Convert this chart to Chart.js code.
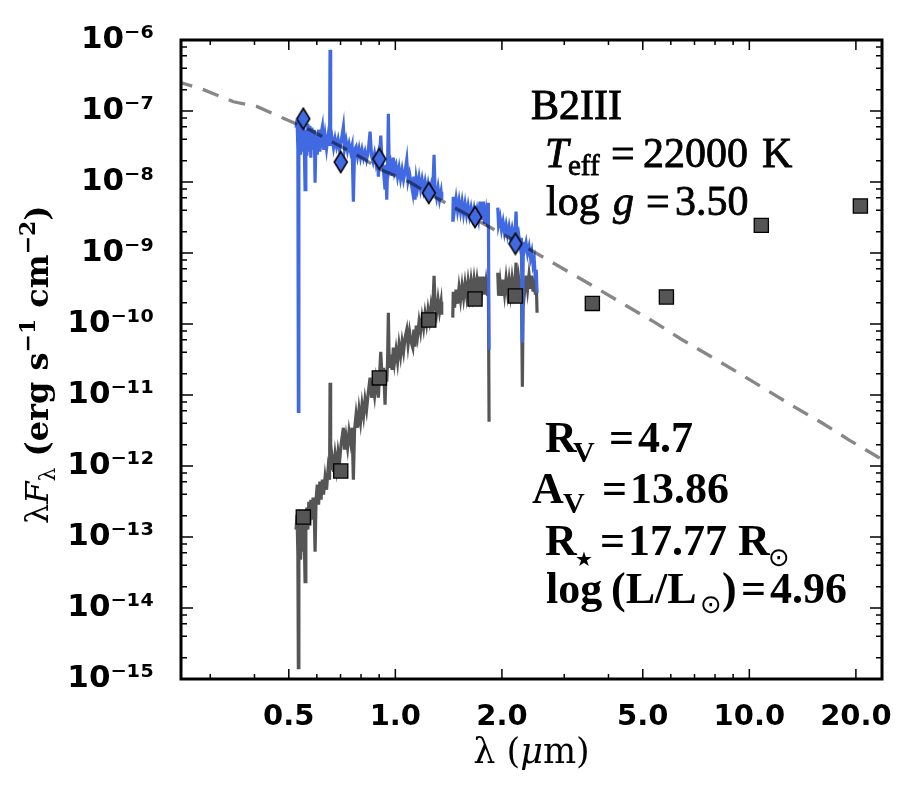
<!DOCTYPE html>
<html lang="en">
<head>
<meta charset="UTF-8" />
<title>SED B2III</title>
<script src="https://cdn.jsdelivr.net/npm/chart.js"></script>
<style>
  html, body { margin: 0; padding: 0; background: #fff; }
  #wrap { position: relative; width: 915px; height: 799px; }
</style>
</head>
<body>
<div id="wrap"><canvas id="sed" width="915" height="799"></canvas></div>
<script>
// spectrum wavelength grid (um); the two null-flux entries are gaps
const specWave = [
  0.5242, 0.5276, 0.5304, 0.5321, 0.5339, 0.5363, 0.5398, 0.5433, 0.5468, 0.5504,
  0.5533, 0.5558, 0.5587, 0.5623, 0.5660, 0.5697, 0.5734, 0.5771, 0.5809, 0.5855,
  0.5901, 0.5932, 0.5970, 0.6017, 0.6068, 0.6120, 0.6168, 0.6220, 0.6269, 0.6330,
  0.6392, 0.6455, 0.6518, 0.6539, 0.6565, 0.6625, 0.6690, 0.6756, 0.6822, 0.6889,
  0.6956, 0.7025, 0.7131, 0.7186, 0.7257, 0.7328, 0.7400, 0.7473, 0.7546, 0.7610,
  0.7670, 0.7745, 0.7821, 0.7897, 0.7974, 0.8052, 0.8131, 0.8211, 0.8292, 0.8373,
  0.8483, 0.8566, 0.8650, 0.8735, 0.8821, 0.8907, 0.8954, 0.9023, 0.9094, 0.9171,
  0.9261, 0.9352, 0.9413, 0.9456, 0.9505, 0.9555, 0.9611, 0.9693, 0.9788, 0.9871,
  0.9948, 1.0046, 1.0144, 1.0244, 1.0344, 1.0446, 1.0548, 1.0651, 1.0770, 1.0861,
  1.0968, 1.1076, 1.1199, 1.1279, 1.1367, 1.1456, 1.1554, 1.1667, 1.1781, 1.1897,
  1.2014, 1.2131, 1.2250, 1.2370, 1.2491, 1.2614, 1.2737, 1.2862, 1.2946, 1.3073,
  1.3201, 1.3330, 1.3461, 1.3522,
  1.40,
  1.4527, 1.4574, 1.4697, 1.4841, 1.4987, 1.5133, 1.5282, 1.5432, 1.5583, 1.5736,
  1.5890, 1.6046, 1.6203, 1.6362, 1.6522, 1.6684, 1.6848, 1.7013, 1.7180, 1.7348,
  1.7518, 1.7725, 1.7864, 1.8039, 1.8216, 1.8311, 1.8395,
  1.89,
  1.9466, 1.9568, 1.9759, 1.9953, 2.0148, 2.0346, 2.0546, 2.0747, 2.0951, 2.1156,
  2.1364, 2.1573, 2.1785, 2.1927, 2.2070, 2.2287, 2.2505, 2.2696, 2.2844, 2.2993,
  2.3173, 2.3400, 2.3630, 2.3861, 2.4095, 2.4284, 2.4490, 2.4682, 2.4860, 2.5006,
  2.5136
];

// dereddened spectrum, lambda*F_lambda (erg s-1 cm-2)
const specDered = [
  5.82e-8, 7.54e-8, 2.85e-8, 5.87e-12, 3.94e-8, 7.07e-8, 2.42e-8, 6.41e-8, 2.67e-8, 7.30e-8,
  2.85e-8, 7.79e-9, 5.45e-8, 2.35e-8, 6.62e-8, 2.67e-8, 6.21e-8, 2.20e-8, 5.82e-8, 2.85e-8,
  5.45e-8, 9.77e-9, 4.64e-8, 2.42e-8, 5.45e-8, 2.67e-8, 4.79e-8, 6.01e-8, 2.85e-8, 4.49e-8,
  2.94e-8, 4.35e-8, 3.25e-8, 7.30e-7, 3.25e-8, 4.21e-8, 3.04e-8, 4.07e-8, 3.14e-8, 3.94e-8,
  2.85e-8, 3.69e-8, 6.01e-8, 2.94e-8, 3.82e-8, 2.76e-8, 3.46e-8, 2.67e-8, 3.25e-8, 5.28e-9,
  2.85e-8, 3.14e-8, 2.27e-8, 2.94e-8, 2.20e-8, 2.85e-8, 2.20e-8, 2.67e-8, 2.06e-8, 2.59e-8,
  5.11e-8, 2.35e-8, 1.93e-8, 2.50e-8, 1.81e-8, 2.27e-8, 1.19e-8, 2.06e-8, 4.49e-8, 1.93e-8,
  1.40e-8, 7.79e-9, 1.75e-8, 5.63e-9, 1.59e-8, 9.16e-8, 1.49e-8, 1.81e-8, 1.23e-8, 2.20e-8,
  1.40e-8, 1.70e-8, 1.19e-8, 1.59e-8, 1.11e-8, 1.49e-8, 1.08e-8, 1.40e-8, 2.06e-8, 1.04e-8,
  1.31e-8, 9.77e-9, 7.07e-9, 1.19e-8, 5.63e-9, 1.11e-8, 8.31e-9, 1.15e-8, 8.05e-9, 1.08e-8,
  7.79e-9, 1.01e-8, 7.30e-9, 9.46e-9, 7.07e-9, 8.87e-9, 6.41e-9, 2.42e-8, 7.79e-9, 6.01e-9,
  8.31e-9, 5.63e-9, 7.30e-9, 5.63e-9,
  null,
  2.76e-9, 6.21e-9, 4.07e-9, 5.82e-9, 3.94e-9, 5.45e-9, 3.82e-9, 5.28e-9, 3.58e-9, 4.95e-9,
  3.46e-9, 4.64e-9, 3.35e-9, 4.35e-9, 3.25e-9, 4.21e-9, 3.14e-9, 4.07e-9, 3.04e-9, 5.28e-9,
  2.94e-9, 5.28e-9, 2.59e-9, 3.82e-9, 2.35e-9, 5.11e-9, 4.35e-11,
  null,
  4.35e-9, 2.50e-9, 3.14e-9, 2.13e-9, 2.76e-9, 1.93e-9, 2.50e-9, 1.81e-9, 2.35e-9, 1.70e-9,
  2.20e-9, 1.64e-9, 2.00e-9, 3.82e-9, 1.54e-9, 1.87e-9, 1.31e-9, 1.64e-9, 5.45e-11, 1.44e-9,
  1.11e-9, 1.40e-9, 9.77e-10, 1.23e-9, 8.59e-10, 1.04e-9, 6.84e-10, 8.05e-10, 4.21e-10, 5.82e-10,
  2.76e-10
];

// observed (reddened) spectrum
const specObs = [
  1.27e-13, 2.06e-13, 5.63e-14, 1.44e-15, 9.16e-14, 1.75e-13, 4.79e-14, 1.49e-13, 6.21e-14, 1.87e-13,
  7.79e-14, 2.35e-14, 1.49e-13, 2.59e-13, 1.27e-13, 3.14e-13, 1.44e-13, 3.35e-13, 1.75e-13, 3.58e-13,
  2.06e-13, 6.21e-14, 3.35e-13, 5.45e-13, 2.85e-13, 6.01e-13, 3.35e-13, 6.41e-13, 3.94e-13, 6.84e-13,
  4.64e-13, 8.87e-13, 6.41e-13, 1.49e-11, 8.87e-13, 1.31e-12, 8.31e-13, 1.44e-12, 9.46e-13, 1.59e-12,
  1.15e-12, 2.00e-12, 3.46e-12, 1.70e-12, 2.59e-12, 1.81e-12, 3.04e-12, 2.20e-12, 3.46e-12, 6.41e-13,
  3.25e-12, 5.28e-12, 3.46e-12, 6.21e-12, 4.21e-12, 7.30e-12, 5.11e-12, 8.59e-12, 6.21e-12, 1.01e-11,
  1.75e-11, 9.16e-12, 1.40e-11, 9.77e-12, 1.64e-11, 1.19e-11, 9.16e-12, 1.93e-11, 4.07e-11, 1.75e-11,
  2.42e-11, 7.30e-12, 2.27e-11, 1.54e-11, 2.94e-11, 1.44e-10, 2.42e-11, 3.69e-11, 2.27e-11, 4.64e-11,
  2.94e-11, 4.35e-11, 2.94e-11, 5.11e-11, 3.58e-11, 5.63e-11, 4.07e-11, 6.41e-11, 8.31e-11, 5.11e-11,
  7.79e-11, 5.63e-11, 4.64e-11, 8.31e-11, 4.79e-11, 9.46e-11, 6.84e-11, 1.08e-10, 7.79e-11, 1.23e-10,
  8.87e-11, 1.40e-10, 1.01e-10, 1.59e-10, 1.15e-10, 1.81e-10, 1.31e-10, 4.79e-10, 1.87e-10, 1.40e-10,
  2.20e-10, 1.49e-10, 2.06e-10, 1.35e-10,
  null,
  1.23e-10, 2.85e-10, 1.70e-10, 3.04e-10, 1.93e-10, 3.25e-10, 2.20e-10, 3.46e-10, 2.35e-10, 3.69e-10,
  2.50e-10, 3.94e-10, 2.59e-10, 4.07e-10, 2.67e-10, 4.21e-10, 2.76e-10, 4.21e-10, 2.85e-10, 4.64e-10,
  2.85e-10, 4.64e-10, 2.59e-10, 3.94e-10, 2.50e-10, 4.49e-10, 4.21e-12,
  null,
  5.28e-10, 2.50e-10, 3.94e-10, 2.50e-10, 4.21e-10, 2.67e-10, 4.35e-10, 2.76e-10, 4.21e-10, 2.67e-10,
  4.35e-10, 2.85e-10, 4.21e-10, 7.30e-10, 2.85e-10, 4.49e-10, 2.94e-10, 4.35e-10, 1.31e-11, 4.07e-10,
  2.85e-10, 4.79e-10, 3.04e-10, 4.95e-10, 3.14e-10, 4.79e-10, 2.85e-10, 4.49e-10, 2.59e-10, 3.94e-10,
  1.44e-10
];

// unreddened model atmosphere (dashed)
const modelWave = [0.24, 0.287, 0.349, 0.406, 0.483, 0.574, 0.675, 0.798, 0.915, 1.10, 1.28, 1.546, 1.84,
  2.19, 2.62, 3.09, 3.72, 4.48, 5.38, 6.39, 7.70, 9.24, 13.4, 16.1, 19.2, 23.0, 25.0];
const modelFlux = [2.63e-7, 2.0e-7, 1.35e-7, 1.16e-7, 7.9e-8, 5.4e-8, 3.5e-8, 2.24e-8, 1.48e-8, 9.9e-9, 6.3e-9, 3.8e-9, 2.34e-9,
  1.45e-9, 8.7e-10, 5.4e-10, 3.16e-10, 1.82e-10, 1.07e-10, 6.2e-11, 3.6e-11, 2.1e-11, 6.8e-12, 4.0e-12, 2.3e-12, 1.35e-12, 1.05e-12];

// photometry
const photWave = [0.5495, 0.701, 0.901, 1.243, 1.679, 2.183];
const photDered = [7.79e-8, 1.91e-8, 2.11e-8, 7.00e-9, 3.21e-9, 1.35e-9];
const obsWave = [0.5495, 0.701, 0.901, 1.243, 1.679, 2.183, 3.602, 5.83, 10.81, 20.59];
const obsFlux = [1.91e-13, 8.50e-13, 1.74e-11, 1.14e-10, 2.25e-10, 2.48e-10, 1.95e-10, 2.40e-10, 2.45e-9, 4.59e-9];

// axes
const xTicks = [0.5, 1, 2, 5, 10, 20];
const xTickLabels = ['0.5', '1.0', '2.0', '5.0', '10.0', '20.0'];
const xMinor = [0.3, 0.4, 0.6, 0.7, 0.8, 0.9, 3, 4, 6, 7, 8, 9];
const yTicks = [1e-15, 1e-14, 1e-13, 1e-12, 1e-11, 1e-10, 1e-9, 1e-8, 1e-7, 1e-6];
const yTickLabels = ['10⁻¹⁵', '10⁻¹⁴', '10⁻¹³', '10⁻¹²', '10⁻¹¹', '10⁻¹⁰', '10⁻⁹', '10⁻⁸', '10⁻⁷', '10⁻⁶'];
const yMinorSubs = [2, 4, 6, 8];

const SERIF = '"Liberation Serif", serif';
const DSERIF = '"DejaVu Serif", serif';
const SYM = '"DejaVu Sans", sans-serif';

const pts = (xs, ys) => xs.map((x, i) => ({ x: x, y: ys[i] }));

// thin diamond marker
const diamond = document.createElement('canvas');
diamond.width = 16; diamond.height = 24;
(function () {
  const c = diamond.getContext('2d');
  c.beginPath();
  c.moveTo(8, 1.5); c.lineTo(14.5, 12); c.lineTo(8, 22.5); c.lineTo(1.5, 12); c.closePath();
  c.fillStyle = '#4169e1'; c.fill();
  c.lineWidth = 1.5; c.strokeStyle = '#000'; c.stroke();
})();

// annotation pieces (text, left x, baseline y, size); w = extra stroke weight
const notes = [
  { t: 'B2III', x: 531, y: 119, s: 42, w: 1 },
  { t: 'T', x: 545, y: 167, s: 42, it: 1, w: 0.8 },
  { t: 'eff', x: 568, y: 175, s: 29, w: 0.8 },
  { t: '=', x: 611, y: 167, s: 42, w: 0.8 },
  { t: '22000', x: 643, y: 167, s: 42, w: 0.8 },
  { t: 'K', x: 762, y: 167, s: 42, w: 0.8 },
  { t: 'log', x: 546, y: 215, s: 42, w: 0.8 },
  { t: 'g', x: 613, y: 215, s: 42, it: 1, w: 0.8 },
  { t: '=', x: 646, y: 215, s: 42, w: 0.8 },
  { t: '3.50', x: 675, y: 215, s: 42, w: 0.8 },

  { t: 'R', x: 545, y: 452, s: 44, b: 1 },
  { t: 'V', x: 573, y: 462, s: 30, b: 1 },
  { t: '=', x: 609, y: 452, s: 44, b: 1 },
  { t: '4.7', x: 638, y: 452, s: 44, b: 1 },
  { t: 'A', x: 532, y: 503, s: 44, b: 1 },
  { t: 'V', x: 563, y: 513, s: 30, b: 1 },
  { t: '=', x: 602, y: 503, s: 44, b: 1 },
  { t: '13.86', x: 630, y: 503, s: 44, b: 1 },
  { t: 'R', x: 545, y: 555, s: 44, b: 1 },
  { t: '★', x: 575, y: 566, s: 20, f: SYM },
  { t: '=', x: 600, y: 555, s: 44, b: 1 },
  { t: '17.77', x: 628, y: 555, s: 44, b: 1 },
  { t: 'R', x: 738, y: 555, s: 44, b: 1 },
  { t: '⊙', x: 768, y: 566, s: 26, f: SYM },
  { t: 'log', x: 546, y: 603, s: 44, b: 1 },
  { t: '(L/L', x: 611, y: 603, s: 44, b: 1 },
  { t: '⊙', x: 700, y: 613, s: 26, f: SYM },
  { t: ')', x: 722, y: 603, s: 44, b: 1 },
  { t: '=', x: 741, y: 603, s: 44, b: 1 },
  { t: '4.96', x: 770, y: 603, s: 44, b: 1 }
];

const yTitle = [
  { t: 'λ', s: 32 },
  { t: 'F', s: 32, it: 1 },
  { t: 'λ', s: 22, dy: 7 },
  { t: ' (erg s', s: 32, b: 1 },
  { t: '−1', s: 22, b: 1, dy: -13 },
  { t: ' cm', s: 32, b: 1 },
  { t: '−2', s: 22, b: 1, dy: -13 },
  { t: ')', s: 32, b: 1 }
];
const xTitle = [
  { t: 'λ (', s: 35 },
  { t: 'μ', s: 35, it: 1 },
  { t: 'm)', s: 35 }
];

function setFont(ctx, p, family) {
  ctx.font = (p.it ? 'italic ' : '') + (p.b ? 'bold ' : '') + p.s + 'px ' + (p.f || family);
}

function flow(ctx, pieces, x, y, family) {
  for (const p of pieces) {
    setFont(ctx, p, family);
    ctx.fillText(p.t, x, y + (p.dy || 0));
    x += ctx.measureText(p.t).width;
  }
  return x;
}

function flowWidth(ctx, pieces, family) {
  let w = 0;
  for (const p of pieces) { setFont(ctx, p, family); w += ctx.measureText(p.t).width; }
  return w;
}

const frameTicks = {
  id: 'frameTicks',
  afterDatasetsDraw(chart) {
    const { ctx, chartArea: a, scales: { x, y } } = chart;
    ctx.save();
    ctx.strokeStyle = '#000';
    ctx.lineWidth = 1.5;
    ctx.beginPath();
    const xt = (v, len) => {
      const px = x.getPixelForValue(v);
      ctx.moveTo(px, a.bottom); ctx.lineTo(px, a.bottom - len);
      ctx.moveTo(px, a.top); ctx.lineTo(px, a.top + len);
    };
    const yt = (v, len) => {
      const py = y.getPixelForValue(v);
      ctx.moveTo(a.left, py); ctx.lineTo(a.left + len, py);
      ctx.moveTo(a.right, py); ctx.lineTo(a.right - len, py);
    };
    xTicks.forEach(v => xt(v, 10));
    xMinor.forEach(v => xt(v, 5));
    yTicks.forEach(v => yt(v, 12));
    yTicks.slice(0, -1).forEach(d => yMinorSubs.forEach(m => yt(m * d, 6)));
    ctx.stroke();
    ctx.lineWidth = 3;
    ctx.strokeRect(a.left, a.top, a.right - a.left, a.bottom - a.top);
    ctx.restore();
  },
  afterDraw(chart) {
    const ctx = chart.ctx;
    ctx.save();
    ctx.fillStyle = '#000';
    ctx.strokeStyle = '#000';
    ctx.textBaseline = 'alphabetic';
    ctx.textAlign = 'left';
    notes.forEach(p => {
      setFont(ctx, p, SERIF);
      ctx.fillText(p.t, p.x, p.y);
      if (p.w) { ctx.lineWidth = p.w; ctx.strokeText(p.t, p.x, p.y); }
    });

    // y axis title, rotated
    ctx.save();
    ctx.translate(48, 524);
    ctx.rotate(-Math.PI / 2);
    flow(ctx, yTitle, 0, 0, DSERIF);
    ctx.restore();

    // x axis title
    const w = flowWidth(ctx, xTitle, DSERIF);
    const a = chart.chartArea;
    flow(ctx, xTitle, (a.left + a.right) / 2 - w / 2, 763, DSERIF);
    ctx.restore();
  }
};

new Chart(document.getElementById('sed'), {
  type: 'scatter',
  data: {
    datasets: [
      {
        data: pts(photWave, photDered),
        pointStyle: diamond, pointRadius: 8,
        order: 1
      },
      {
        data: pts(obsWave, obsFlux),
        pointStyle: 'rect', pointRadius: 10,
        backgroundColor: '#555555', borderColor: '#000', borderWidth: 1.3,
        order: 2
      },
      {
        data: pts(modelWave, modelFlux),
        showLine: true, pointRadius: 0,
        borderColor: 'rgba(0,0,0,0.47)', borderWidth: 3.3, borderDash: [17, 11],
        borderCapStyle: 'butt',
        order: 3
      },
      {
        data: pts(specWave, specDered),
        showLine: true, spanGaps: false, pointRadius: 0,
        borderColor: '#4169e1', borderWidth: 3.2,
        order: 4
      },
      {
        data: pts(specWave, specObs),
        showLine: true, spanGaps: false, pointRadius: 0,
        borderColor: '#555555', borderWidth: 3.2,
        order: 5
      }
    ]
  },
  options: {
    responsive: false,
    animation: false,
    devicePixelRatio: 1,
    events: [],
    layout: { padding: { top: 40, right: 33, bottom: 0, left: 0 } },
    plugins: { legend: { display: false }, tooltip: { enabled: false } },
    scales: {
      x: {
        type: 'logarithmic', position: 'bottom',
        min: 0.248, max: 23.7,
        grid: { display: false }, border: { display: false },
        ticks: {
          color: '#000', padding: 13, autoSkip: false, maxRotation: 0,
          font: { family: 'DejaVu Sans', weight: 'bold', size: 29 },
          callback: (v, i) => xTickLabels[i]
        },
        afterBuildTicks: s => { s.ticks = xTicks.map(v => ({ value: v })); },
        afterFit: s => { s.height = 120; }
      },
      y: {
        type: 'logarithmic', position: 'left',
        min: 1e-15, max: 1e-6,
        grid: { display: false }, border: { display: false },
        ticks: {
          color: '#000', padding: 19, autoSkip: false,
          font: { family: 'DejaVu Sans', weight: 'bold', size: 31 },
          callback: (v, i) => yTickLabels[i]
        },
        afterBuildTicks: s => { s.ticks = yTicks.map(v => ({ value: v })); },
        afterFit: s => { s.width = 181; }
      }
    }
  },
  plugins: [frameTicks]
});
</script>
</body>
</html>
